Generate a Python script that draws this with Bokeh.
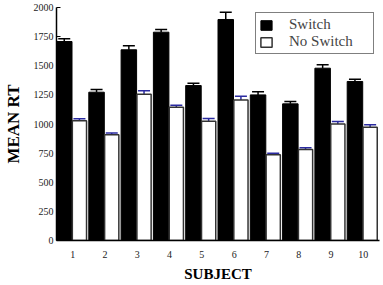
from bokeh.plotting import figure
from bokeh.models import ColumnDataSource, Whisker, TeeHead, FixedTicker, Range1d
from bokeh.embed import file_html
from bokeh.resources import INLINE

subjects = [1, 2, 3, 4, 5, 6, 7, 8, 9, 10]
switch_rt = [1708, 1273, 1637, 1788, 1330, 1897, 1250, 1173, 1479, 1365]
switch_err = [23, 23, 34, 23, 20, 63, 26, 20, 29, 19]
noswitch_rt = [1027, 908, 1256, 1144, 1024, 1207, 736, 781, 1001, 973]
noswitch_err = [18, 15, 29, 18, 23, 32, 14, 15, 20, 20]
y_ticks = [0, 250, 500, 750, 1000, 1250, 1500, 1750, 2000]

SERIF = "Liberation Serif"

sw = ColumnDataSource(dict(
    x=[s - 0.26 for s in subjects], top=switch_rt,
    upper=[v + e for v, e in zip(switch_rt, switch_err)]))
ns = ColumnDataSource(dict(
    x=[s + 0.21 for s in subjects], top=noswitch_rt,
    upper=[v + e for v, e in zip(noswitch_rt, noswitch_err)]))

p = figure(width=383, height=285, output_backend="svg", toolbar_location=None,
           x_range=Range1d(0.5, 10.5), y_range=Range1d(0, 2000),
           min_border_left=55, min_border_right=4, min_border_top=7,
           min_border_bottom=45)
p.outline_line_color = None
p.grid.visible = False
p.background_fill_color = "white"

p.vbar(x="x", top="top", width=0.48, source=sw, fill_color="black",
       line_color="black", legend_label="Switch")
p.vbar(x="x", top="top", width=0.44, source=ns, fill_color="white",
       line_color="#333333", line_width=1.5, legend_label="No Switch")

w1 = Whisker(base="x", upper="upper", lower="top", source=sw,
             line_color="black", line_width=1.5,
             upper_head=TeeHead(size=12, line_color="black", line_width=1.5),
             lower_head=None)
w2 = Whisker(base="x", upper="upper", lower="top", source=ns,
             line_color="#2a2aa0", line_width=1.5,
             upper_head=TeeHead(size=12, line_color="#2a2aa0", line_width=1.5),
             lower_head=None)
p.add_layout(w1)
p.add_layout(w2)

p.xaxis.ticker = FixedTicker(ticks=subjects)
p.yaxis.ticker = FixedTicker(ticks=y_ticks)
for ax in (p.xaxis[0], p.yaxis[0]):
    ax.major_label_text_font = SERIF
    ax.major_label_text_font_size = "10px"
    ax.major_label_text_color = "#222222"
    ax.axis_label_text_font = SERIF
    ax.axis_label_text_font_style = "bold"
    ax.axis_label_text_color = "black"
    ax.minor_tick_line_color = None
    ax.axis_line_color = "black"
    ax.axis_line_width = 1.5

p.xaxis.axis_label = "SUBJECT"
p.xaxis.axis_label_text_font_size = "15px"
p.xaxis.major_tick_line_color = None
p.xaxis.major_label_standoff = 4
p.xaxis.axis_label_standoff = 5

p.yaxis.axis_label = "MEAN RT"
p.yaxis.axis_label_text_font_size = "17px"
p.yaxis.major_tick_in = 4
p.yaxis.major_tick_out = 0
p.yaxis.major_tick_line_color = "black"
p.yaxis.major_label_standoff = 3
p.yaxis.axis_label_standoff = 8

lg = p.legend[0]
lg.location = "top_right"
lg.margin = 5
lg.padding = 3
lg.spacing = 0
lg.glyph_width = 14
lg.glyph_height = 12
lg.label_height = 12
lg.label_width = 81
lg.label_standoff = 16
lg.label_text_font = SERIF
lg.label_text_font_size = "15px"
lg.border_line_color = "black"
lg.border_line_width = 1
lg.background_fill_alpha = 1

open("out.html", "w").write(file_html(p, INLINE))
